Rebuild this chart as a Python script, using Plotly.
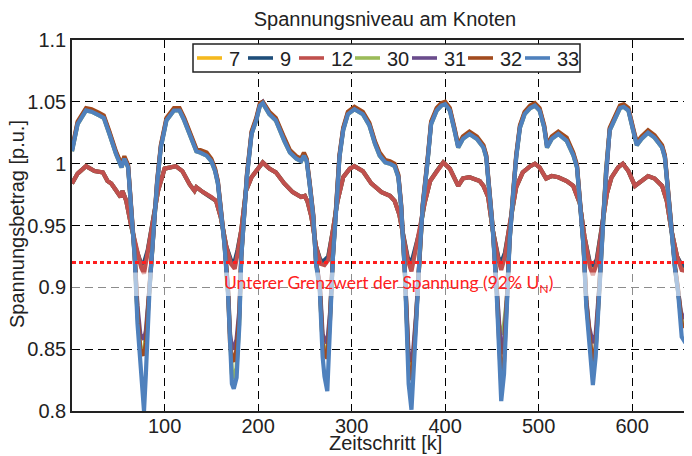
import plotly.graph_objects as go

# ---- time steps (x positions of the read-off points) ----
k_upper = [1, 7, 16, 22, 30, 35, 41, 48, 54, 57, 61, 64, 68, 71, 74, 78, 80, 84, 88, 92, 96, 102, 110,
           116, 121, 127, 132, 134, 138, 145, 150, 154, 157, 161, 164, 168, 170, 172, 174, 177, 180, 182, 185, 188, 193, 198, 202, 205, 212, 219,
           228, 234, 241, 246, 249, 252, 255, 259, 262, 266, 269, 271, 274, 277, 280, 284, 287, 291, 296, 303, 312, 319,
           325, 330, 336, 341, 346, 350, 353, 357, 359, 361, 364, 366, 369, 373, 376, 381, 385, 391, 396, 400, 405, 410, 414, 419, 426, 434,
           441, 444, 448, 451, 455, 458, 460, 463, 466, 469, 473, 476, 480, 485, 491, 496, 501, 506, 509, 514, 521, 530, 537,
           541, 544, 548, 551, 554, 557, 558, 561, 565, 568, 572, 576, 582, 587, 591, 596, 601, 605, 610, 617, 624, 632, 635, 639, 642, 646, 649, 653, 657, 660, 663, 665]

k_lower = [1, 7, 16, 25, 34, 39, 43, 48, 53, 55, 59, 64, 70, 75, 78, 82, 87, 93, 100, 112,
           119, 127, 132, 134, 141, 150, 155, 160, 166, 171, 175, 178, 182, 187, 193, 198, 205, 212, 219,
           228, 237, 246, 250, 253, 257, 262, 267, 271, 275, 280, 285, 291, 298, 303, 312, 321,
           326, 332, 341, 346, 351, 357, 360, 364, 367, 373, 378, 384, 391, 398, 405, 410, 414, 419, 426, 437,
           441, 446, 451, 457, 460, 464, 469, 476, 483, 491, 496, 501, 508, 514, 521, 530,
           537, 544, 549, 555, 558, 562, 567, 573, 578, 585, 590, 596, 603, 610, 617, 624, 632, 637, 642, 648, 653, 657, 660, 665]

# ---- node voltages [p.u.] ----
v12 = [0.984, 0.992, 0.998, 0.994, 0.993, 0.986, 0.984, 0.978, 0.973, 0.978, 0.970, 0.951, 0.930, 0.916, 0.911, 0.927, 0.951, 0.978, 0.996, 0.998,
       0.994, 0.983, 0.978, 0.981, 0.977, 0.973, 0.970, 0.957, 0.933, 0.919, 0.915, 0.927, 0.946, 0.978, 0.989, 0.994, 1.001, 0.996, 0.993,
       0.984, 0.977, 0.973, 0.974, 0.969, 0.957, 0.933, 0.919, 0.918, 0.922, 0.946, 0.970, 0.989, 0.996, 0.998, 0.994, 0.984,
       0.981, 0.977, 0.974, 0.970, 0.959, 0.933, 0.922, 0.913, 0.925, 0.946, 0.968, 0.986, 0.994, 1.001, 0.996, 0.988, 0.982, 0.988, 0.989, 0.986,
       0.982, 0.973, 0.946, 0.922, 0.914, 0.925, 0.951, 0.981, 0.993, 0.998, 1.000, 0.997, 0.988, 0.990, 0.989, 0.986,
       0.982, 0.968, 0.941, 0.916, 0.910, 0.919, 0.946, 0.976, 0.989, 0.997, 1.000, 0.994, 0.982, 0.986, 0.990, 0.988, 0.982, 0.970, 0.946, 0.925, 0.914, 0.913, 0.930, 0.951]

v9 = [0.984, 0.992, 0.998, 0.994, 0.993, 0.986, 0.984, 0.978, 0.973, 0.978, 0.970, 0.951, 0.930, 0.919, 0.920, 0.930, 0.951, 0.978, 0.996, 0.998,
      0.994, 0.983, 0.978, 0.981, 0.977, 0.973, 0.970, 0.957, 0.933, 0.922, 0.921, 0.930, 0.946, 0.978, 0.989, 0.994, 1.001, 0.996, 0.993,
      0.984, 0.977, 0.973, 0.974, 0.969, 0.957, 0.933, 0.921, 0.922, 0.925, 0.946, 0.970, 0.989, 0.996, 0.998, 0.994, 0.984,
      0.981, 0.977, 0.974, 0.970, 0.959, 0.933, 0.924, 0.920, 0.928, 0.946, 0.968, 0.986, 0.994, 1.001, 0.996, 0.988, 0.982, 0.988, 0.989, 0.986,
      0.982, 0.973, 0.946, 0.924, 0.920, 0.928, 0.951, 0.981, 0.993, 0.998, 1.000, 0.997, 0.988, 0.990, 0.989, 0.986,
      0.982, 0.968, 0.941, 0.919, 0.918, 0.922, 0.946, 0.976, 0.989, 0.997, 1.000, 0.994, 0.982, 0.986, 0.990, 0.988, 0.982, 0.970, 0.946, 0.925, 0.918, 0.917, 0.933, 0.951]

v7 = [0.984, 0.992, 0.998, 0.994, 0.993, 0.986, 0.984, 0.978, 0.973, 0.978, 0.970, 0.951, 0.930, 0.918, 0.916, 0.929, 0.951, 0.978, 0.996, 0.998,
      0.994, 0.983, 0.978, 0.981, 0.977, 0.973, 0.970, 0.957, 0.933, 0.921, 0.918, 0.929, 0.946, 0.978, 0.989, 0.994, 1.001, 0.996, 0.993,
      0.984, 0.977, 0.973, 0.974, 0.969, 0.957, 0.933, 0.920, 0.920, 0.924, 0.946, 0.970, 0.989, 0.996, 0.998, 0.994, 0.984,
      0.981, 0.977, 0.974, 0.970, 0.959, 0.933, 0.923, 0.917, 0.927, 0.946, 0.968, 0.986, 0.994, 1.001, 0.996, 0.988, 0.982, 0.988, 0.989, 0.986,
      0.982, 0.973, 0.946, 0.923, 0.917, 0.927, 0.951, 0.981, 0.993, 0.998, 1.000, 0.997, 0.988, 0.990, 0.989, 0.986,
      0.982, 0.968, 0.941, 0.918, 0.914, 0.921, 0.946, 0.976, 0.989, 0.997, 1.000, 0.994, 0.982, 0.986, 0.990, 0.988, 0.982, 0.970, 0.946, 0.925, 0.916, 0.915, 0.932, 0.951]

v33 = [1.010, 1.032, 1.043, 1.042, 1.039, 1.037, 1.024, 1.008, 0.997, 1.004, 0.997, 0.970, 0.925, 0.871, 0.838, 0.800, 0.830, 0.900, 0.943, 0.984, 1.013, 1.035, 1.043,
       1.043, 1.035, 1.024, 1.013, 1.010, 1.009, 1.0065, 1.002, 0.994, 0.984, 0.957, 0.935, 0.892, 0.844, 0.822, 0.818, 0.827, 0.870, 0.924, 0.957, 0.989, 1.024, 1.035, 1.047, 1.049, 1.040, 1.035,
       1.0185, 1.009, 1.004, 1.002, 1.0065, 1.002, 0.984, 0.957, 0.919, 0.897, 0.844, 0.828, 0.816, 0.870, 0.924, 0.968, 1.005, 1.027, 1.040, 1.044, 1.040, 1.031,
       1.016, 1.0065, 1.001, 1.000, 0.998, 0.989, 0.965, 0.911, 0.857, 0.822, 0.801, 0.825, 0.870, 0.930, 0.965, 1.000, 1.032, 1.043, 1.047, 1.048, 1.043, 1.027, 1.013, 1.020, 1.024, 1.020,
       1.013, 1.005, 0.973, 0.946, 0.897, 0.844, 0.808, 0.830, 0.884, 0.938, 0.978, 1.005, 1.029, 1.040, 1.045, 1.047, 1.043, 1.029, 1.013, 1.020, 1.024, 1.0185, 1.007,
       0.997, 0.970, 0.933, 0.884, 0.855, 0.828, 0.821, 0.844, 0.897, 0.946, 0.992, 1.027, 1.037, 1.045, 1.046, 1.043, 1.027, 1.015, 1.020, 1.025, 1.021, 1.013, 1.005, 0.973, 0.941, 0.914, 0.897, 0.860, 0.855, 0.875, 0.900, 0.930]

v32 = [1.012, 1.034, 1.045, 1.044, 1.041, 1.039, 1.026, 1.010, 0.999, 1.006, 0.999, 0.972, 0.927, 0.880, 0.850, 0.845, 0.855, 0.902, 0.945, 0.986, 1.015, 1.037, 1.045,
       1.045, 1.037, 1.026, 1.015, 1.012, 1.011, 1.009, 1.004, 0.996, 0.986, 0.959, 0.937, 0.895, 0.855, 0.842, 0.840, 0.850, 0.878, 0.926, 0.959, 0.991, 1.026, 1.037, 1.049, 1.050, 1.042, 1.037,
       1.021, 1.011, 1.006, 1.004, 1.009, 1.004, 0.986, 0.959, 0.921, 0.900, 0.855, 0.845, 0.843, 0.875, 0.926, 0.970, 1.007, 1.029, 1.042, 1.046, 1.042, 1.033,
       1.018, 1.009, 1.003, 1.002, 1.000, 0.991, 0.967, 0.913, 0.865, 0.835, 0.825, 0.840, 0.875, 0.932, 0.967, 1.002, 1.034, 1.045, 1.049, 1.050, 1.045, 1.029, 1.015, 1.022, 1.026, 1.022,
       1.015, 1.007, 0.975, 0.948, 0.900, 0.850, 0.822, 0.840, 0.888, 0.940, 0.980, 1.007, 1.031, 1.042, 1.047, 1.049, 1.045, 1.031, 1.015, 1.022, 1.026, 1.021, 1.009,
       0.999, 0.972, 0.935, 0.888, 0.862, 0.842, 0.838, 0.852, 0.900, 0.948, 0.994, 1.029, 1.039, 1.047, 1.048, 1.045, 1.029, 1.017, 1.022, 1.027, 1.023, 1.015, 1.007, 0.975, 0.943, 0.916, 0.899, 0.870, 0.868, 0.885, 0.905, 0.935]

v31 = [1.011, 1.033, 1.044, 1.043, 1.040, 1.038, 1.025, 1.009, 0.998, 1.005, 0.998, 0.971, 0.926, 0.885, 0.862, 0.858, 0.865, 0.901, 0.944, 0.985, 1.014, 1.036, 1.044,
       1.044, 1.036, 1.025, 1.014, 1.011, 1.010, 1.008, 1.003, 0.995, 0.985, 0.958, 0.936, 0.898, 0.862, 0.852, 0.850, 0.858, 0.882, 0.925, 0.958, 0.990, 1.025, 1.036, 1.048, 1.050, 1.041, 1.036,
       1.020, 1.010, 1.005, 1.003, 1.008, 1.003, 0.985, 0.958, 0.920, 0.903, 0.862, 0.858, 0.855, 0.880, 0.925, 0.969, 1.006, 1.028, 1.041, 1.045, 1.041, 1.032,
       1.017, 1.008, 1.002, 1.001, 0.999, 0.990, 0.966, 0.912, 0.870, 0.845, 0.840, 0.850, 0.878, 0.931, 0.966, 1.001, 1.033, 1.044, 1.048, 1.049, 1.044, 1.028, 1.014, 1.021, 1.025, 1.021,
       1.014, 1.006, 0.974, 0.947, 0.902, 0.860, 0.846, 0.855, 0.890, 0.939, 0.979, 1.006, 1.030, 1.041, 1.046, 1.048, 1.044, 1.030, 1.014, 1.021, 1.025, 1.020, 1.008,
       0.998, 0.971, 0.934, 0.890, 0.868, 0.858, 0.855, 0.862, 0.902, 0.947, 0.993, 1.028, 1.038, 1.046, 1.047, 1.044, 1.028, 1.016, 1.021, 1.026, 1.022, 1.014, 1.006, 0.974, 0.942, 0.915, 0.898, 0.875, 0.878, 0.890, 0.910, 0.938]

v30 = [1.010, 1.032, 1.043, 1.042, 1.039, 1.037, 1.024, 1.008, 0.997, 1.004, 0.997, 0.970, 0.925, 0.878, 0.850, 0.850, 0.860, 0.900, 0.943, 0.984, 1.013, 1.035, 1.043,
       1.043, 1.035, 1.024, 1.013, 1.010, 1.009, 1.0065, 1.002, 0.994, 0.984, 0.957, 0.935, 0.895, 0.850, 0.830, 0.826, 0.835, 0.875, 0.924, 0.957, 0.989, 1.024, 1.035, 1.047, 1.049, 1.040, 1.035,
       1.0185, 1.009, 1.004, 1.002, 1.0065, 1.002, 0.984, 0.957, 0.919, 0.900, 0.855, 0.848, 0.850, 0.878, 0.924, 0.968, 1.005, 1.027, 1.040, 1.044, 1.040, 1.031,
       1.016, 1.0065, 1.001, 1.000, 0.998, 0.989, 0.965, 0.911, 0.868, 0.840, 0.830, 0.845, 0.876, 0.930, 0.965, 1.000, 1.032, 1.043, 1.047, 1.048, 1.043, 1.027, 1.013, 1.020, 1.024, 1.020,
       1.013, 1.005, 0.973, 0.946, 0.900, 0.865, 0.862, 0.870, 0.890, 0.938, 0.978, 1.005, 1.029, 1.040, 1.045, 1.047, 1.043, 1.029, 1.013, 1.020, 1.024, 1.0185, 1.007,
       0.997, 0.970, 0.933, 0.888, 0.862, 0.838, 0.832, 0.850, 0.900, 0.946, 0.992, 1.027, 1.037, 1.045, 1.046, 1.043, 1.027, 1.015, 1.020, 1.025, 1.021, 1.013, 1.005, 0.973, 0.941, 0.914, 0.897, 0.872, 0.870, 0.885, 0.905, 0.935]

node_labels = ["7", "9", "12", "30", "31", "32", "33"]
limit_value = 0.92
x_ticks = [100, 200, 300, 400, 500, 600]

series = [
    (node_labels[0], k_lower, v7, "#F5B91E"),
    (node_labels[1], k_lower, v9, "#1F4E7A"),
    (node_labels[2], k_lower, v12, "#C0504D"),
    (node_labels[3], k_upper, v30, "#9BBB59"),
    (node_labels[4], k_upper, v31, "#6A4C8C"),
    (node_labels[5], k_upper, v32, "#A24B1E"),
    (node_labels[6], k_upper, v33, "#4F81BD"),
]

# The page body adds an 8 px offset; the figure is laid out so that the
# visible window (692 x 456) matches the reference.
OFF = 8
W, H = 692 - OFF, 456 - OFF
PLOT_L, PLOT_R, PLOT_T, PLOT_B = 72, 692, 40, 411   # plot area in window pixels
ML, MT = PLOT_L - OFF, PLOT_T - OFF
MR = (W + OFF) - PLOT_R
MB = (H + OFF) - PLOT_B
PW, PH = PLOT_R - PLOT_L, PLOT_B - PLOT_T


def px_x(p):
    return (p - PLOT_L) / PW


def px_y(p):
    return 1 - (p - PLOT_T) / PH


fig = go.Figure()
for name, xs, ys, col in series:
    fig.add_trace(go.Scatter(x=xs, y=ys, mode="lines", name=name, showlegend=False,
                             line=dict(color=col, width=4.2)))

font_main = "Liberation Sans, Arial, sans-serif"
txt_col = "#222222"
fig.update_layout(
    width=W, height=H,
    margin=dict(l=ML, r=MR, t=MT, b=MB, pad=0),
    paper_bgcolor="white", plot_bgcolor="white",
    font=dict(family=font_main, size=20, color=txt_col),
    title=dict(text="Spannungsniveau am Knoten", x=(385 - OFF) / W, xanchor="center",
               y=1 - (19 - OFF) / H, yanchor="middle", yref="container",
               font=dict(size=20, color=txt_col)),
    showlegend=False,
    xaxis=dict(range=[1, 664], tickvals=x_ticks, showgrid=True, gridcolor="#000000",
               gridwidth=1, griddash="8px,5px", zeroline=False, automargin=False,
               showline=True, linecolor=txt_col, linewidth=1.5, mirror=True,
               ticks="", ticklen=0, ticklabelstandoff=-4, tickfont=dict(size=20)),
    yaxis=dict(range=[0.8, 1.1], dtick=0.05, showgrid=True, gridcolor="#000000",
               gridwidth=1, griddash="8px,5px", zeroline=False, automargin=False,
               showline=True, linecolor=txt_col, linewidth=1.5,
               ticks="", ticklen=0, tickfont=dict(size=20)),
)

# axis titles
fig.add_annotation(text="Zeitschritt [k]", xref="paper", yref="paper",
                   x=px_x(385), y=px_y(443), showarrow=False,
                   xanchor="center", yanchor="middle", font=dict(size=20, color=txt_col))
fig.add_annotation(text="Spannungsbetrag [p.u.]", xref="paper", yref="paper",
                   x=px_x(17), y=px_y(224), showarrow=False, textangle=-90,
                   xanchor="center", yanchor="middle", font=dict(size=20, color=txt_col))

# semi-transparent band behind the limit label
fig.add_shape(type="rect", xref="paper", x0=0, x1=1, yref="y", y0=0.893, y1=0.912,
              fillcolor="white", opacity=0.55, line=dict(width=0), layer="above")
# lower voltage limit
fig.add_shape(type="line", xref="paper", x0=0, x1=1, yref="y", y0=limit_value, y1=limit_value,
              line=dict(color="#FF1E1E", width=3, dash="4px,3px"), layer="above")
fig.add_annotation(x=339, y=0.9025, xref="x", yref="y", showarrow=False,
                   text="Unterer Grenzwert der Spannung (92% U<sub>N</sub>)",
                   font=dict(family="Lato, sans-serif", size=17.5, color="#FF2020"))

# boxed horizontal legend
leg_box = (193, 580, 44, 72)
leg_line_starts = [197, 248, 299, 355, 412, 468, 525]
leg_line_len = 25
leg_cy = 58
fig.add_shape(type="rect", xref="paper", yref="paper",
              x0=px_x(leg_box[0]), x1=px_x(leg_box[1]),
              y0=px_y(leg_box[3]), y1=px_y(leg_box[2]),
              fillcolor="white", line=dict(color=txt_col, width=1.5), layer="above")
for (name, _, _, col), x0 in zip(series, leg_line_starts):
    fig.add_shape(type="line", xref="paper", yref="paper",
                  x0=px_x(x0), x1=px_x(x0 + leg_line_len),
                  y0=px_y(leg_cy), y1=px_y(leg_cy),
                  line=dict(color=col, width=3.6), layer="above")
    fig.add_annotation(text=name, xref="paper", yref="paper",
                       x=px_x(x0 + leg_line_len + 5), y=px_y(leg_cy + 1),
                       xanchor="left", yanchor="middle", showarrow=False,
                       font=dict(size=20, color=txt_col))

fig.write_html("out.html")
